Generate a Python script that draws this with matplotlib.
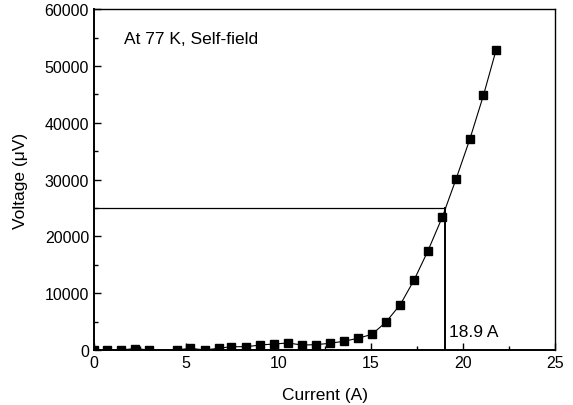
import matplotlib.pyplot as plt
from matplotlib.ticker import MultipleLocator

plt.rcParams['font.family'] = ['Liberation Sans', 'DejaVu Sans']

# measured I-V points
current = [0.0, 0.7, 1.45, 2.22, 3.0, 4.48, 5.23, 6.0, 6.75, 7.45, 8.26,
           9.02, 9.76, 10.52, 11.26, 12.02, 12.78, 13.54, 14.31, 15.07,
           15.82, 16.6, 17.35, 18.09, 18.88, 19.62, 20.37, 21.11, 21.8]
voltage = [0, 0, 0, 250, 0, 0, 300, 0, 300, 580, 580,
           880, 1060, 1230, 880, 930, 1180, 1530, 2060, 2760,
           4900, 7980, 12320, 17380, 23400, 30050, 37100, 44840, 52870]

# critical current criterion
v_crit = 25000
i_line = 19.05
ic_label = '18.9 A'

fig = plt.figure(figsize=(5.73, 4.06), dpi=100)
ax = fig.add_axes([0.164, 0.1355, 0.805, 0.8395])

ax.plot(current, voltage, color='black', lw=0.8, marker='s', ms=5.5,
        mfc='black', mec='black')
ax.plot([0, i_line], [v_crit, v_crit], color='black', lw=0.9)
ax.plot([i_line, i_line], [0, v_crit], color='black', lw=1.4)

ax.set_xlim(0, 25)
ax.set_ylim(0, 60000)
ax.xaxis.set_major_locator(MultipleLocator(5))
ax.xaxis.set_minor_locator(MultipleLocator(2.5))
ax.yaxis.set_major_locator(MultipleLocator(10000))
ax.yaxis.set_minor_locator(MultipleLocator(5000))
ax.tick_params(which='both', direction='in', labelsize=11.5, width=1)
ax.tick_params(which='major', length=5)
ax.tick_params(which='minor', length=3)
for s in ax.spines.values():
    s.set_linewidth(1)
ax.spines['left'].set_linewidth(1.4)
ax.spines['bottom'].set_linewidth(1.4)

ax.set_xlabel('Current (A)', fontsize=12.5, labelpad=12)
ax.set_ylabel('Voltage (\u03bcV)', fontsize=12.5, labelpad=12)

ax.text(1.65, 54000, 'At 77 K, Self-field', fontsize=12.5)
ax.text(i_line + 0.2, 2400, ic_label, fontsize=12.5)

fig.savefig('out.png')
